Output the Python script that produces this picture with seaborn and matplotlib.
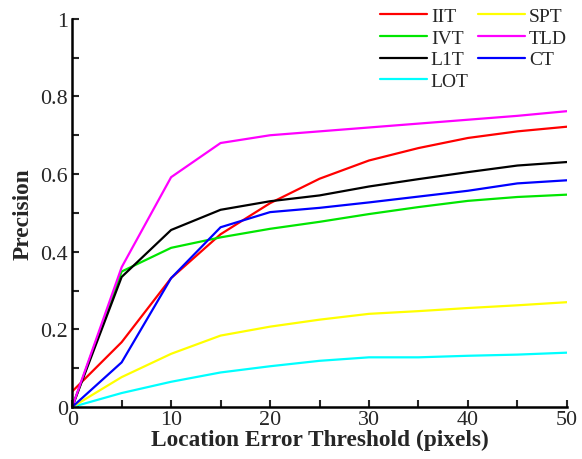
import numpy as np
import pandas as pd
import matplotlib
matplotlib.use("Agg")
import matplotlib.pyplot as plt
import seaborn as sns
from matplotlib.ticker import MultipleLocator

thresholds = [0, 5, 10, 15, 20, 25, 30, 35, 40, 45, 50]
IIT = [0.04, 0.167, 0.332, 0.445, 0.525, 0.588, 0.635, 0.667, 0.693, 0.71, 0.722]
IVT = [0.0, 0.349, 0.41, 0.437, 0.459, 0.477, 0.497, 0.515, 0.531, 0.541, 0.547]
L1T = [0.0, 0.335, 0.456, 0.508, 0.53, 0.545, 0.568, 0.587, 0.605, 0.622, 0.631]
LOT = [0.0, 0.036, 0.065, 0.089, 0.105, 0.119, 0.128, 0.128, 0.132, 0.135, 0.14]
SPT = [0.0, 0.077, 0.137, 0.184, 0.207, 0.225, 0.24, 0.247, 0.255, 0.262, 0.27]
TLD = [0.0, 0.36, 0.592, 0.68, 0.70, 0.71, 0.72, 0.73, 0.74, 0.75, 0.762]
CT = [0.0, 0.115, 0.332, 0.463, 0.502, 0.513, 0.527, 0.542, 0.557, 0.576, 0.584]

series = {"IIT": IIT, "IVT": IVT, "L1T": L1T, "LOT": LOT,
          "SPT": SPT, "TLD": TLD, "CT": CT}
colors = {"IIT": "#ff0000", "IVT": "#00e600", "L1T": "#000000", "LOT": "#00ffff",
          "SPT": "#ffff00", "TLD": "#ff00ff", "CT": "#0000ff"}

rows = []
for name, vals in series.items():
    for t, v in zip(thresholds, vals):
        rows.append({"Threshold": t, "Precision": v, "Tracker": name})
df = pd.DataFrame(rows)

sns.set_style("white")
plt.rcParams['font.family'] = ['Liberation Serif', 'DejaVu Serif']

fig = plt.figure(figsize=(5.82, 4.60), dpi=100)
ax = fig.add_axes([0.124, 0.113, 0.850, 0.844])

sns.lineplot(data=df, x="Threshold", y="Precision", hue="Tracker",
             hue_order=list(series.keys()), palette=colors, linewidth=1.6,
             ax=ax, legend=True)
handles, labels = ax.get_legend_handles_labels()
if ax.get_legend() is not None:
    ax.get_legend().remove()

ax.set_xlim(0, 50)
ax.set_ylim(0, 1)
ax.xaxis.set_major_locator(MultipleLocator(10))
ax.xaxis.set_minor_locator(MultipleLocator(5))
ax.yaxis.set_major_locator(MultipleLocator(0.2))
ax.yaxis.set_minor_locator(MultipleLocator(0.1))
ax.set_yticks([0, 0.2, 0.4, 0.6, 0.8, 1.0])
ax.set_yticklabels(["0", "0.2", "0.4", "0.6", "0.8", "1"])
ax.tick_params(axis="both", which="both", direction="in", labelsize=15.8,
               width=1.5, left=True, bottom=True)
ax.tick_params(which="major", length=5)
ax.tick_params(which="minor", length=5)
ax.tick_params(axis="x", pad=2)
ax.tick_params(axis="y", pad=3)
for s in ["top", "right"]:
    ax.spines[s].set_visible(False)
for s in ["left", "bottom"]:
    ax.spines[s].set_linewidth(1.8)
    ax.spines[s].set_color("black")

ax.set_xlabel("Location Error Threshold (pixels)", fontsize=16.8, fontweight="bold", labelpad=0)
ax.set_ylabel("Precision", fontsize=16.8, fontweight="bold", labelpad=5)

fig.legend(handles, labels, ncol=2, frameon=False, loc="upper right",
           bbox_to_anchor=(567 / 582, 1 - 8 / 460), bbox_transform=fig.transFigure,
           fontsize=14, handlelength=2.4, borderpad=0, borderaxespad=0,
           columnspacing=0.5, labelspacing=0.22, handletextpad=0.2)

fig.savefig("out.png", dpi=100)
